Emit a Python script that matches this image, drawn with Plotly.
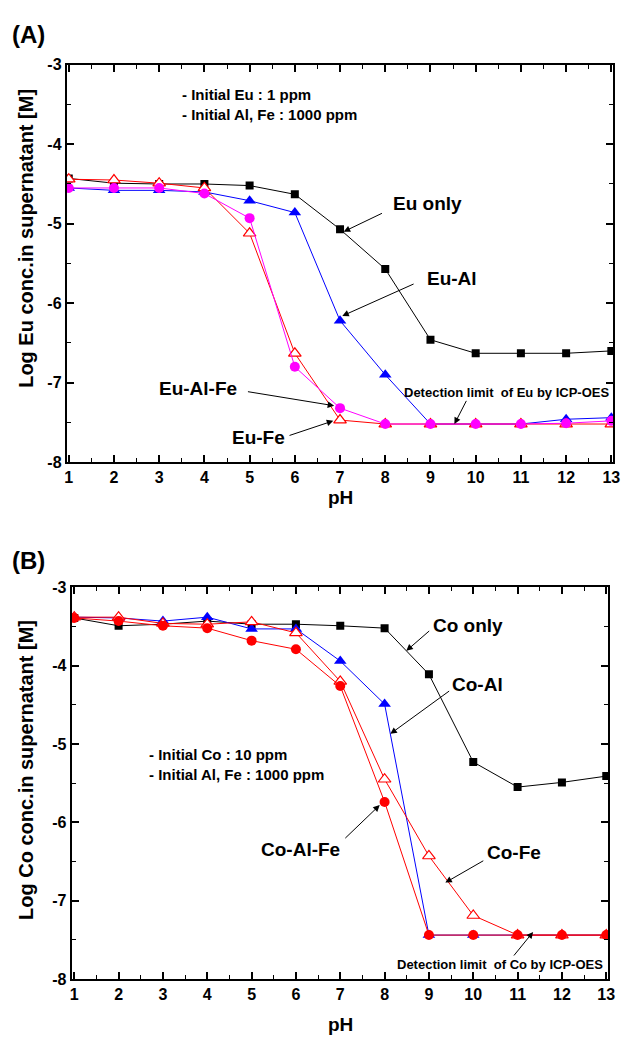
import plotly.graph_objects as go

ph = [1, 2, 3, 4, 5, 6, 7, 8, 9, 10, 11, 12, 13]

# Panel A: Eu
eu_only = [-4.43, -4.49, -4.50, -4.50, -4.52, -4.63, -5.07, -5.57, -6.46, -6.63, -6.63, -6.63, -6.60]
eu_al = [-4.55, -4.58, -4.58, -4.60, -4.71, -4.86, -6.22, -6.90, -7.52, -7.52, -7.52, -7.46, -7.44]
eu_fe = [-4.44, -4.45, -4.49, -4.55, -5.12, -6.63, -7.47, -7.52, -7.52, -7.52, -7.52, -7.52, -7.52]
eu_al_fe = [-4.55, -4.55, -4.55, -4.62, -4.93, -6.80, -7.32, -7.52, -7.52, -7.52, -7.52, -7.51, -7.48]

# Panel B: Co
co_only = [-3.39, -3.49, -3.47, -3.43, -3.47, -3.47, -3.49, -3.52, -4.11, -5.23, -5.55, -5.49, -5.41]
co_al = [-3.38, -3.39, -3.43, -3.38, -3.53, -3.53, -3.94, -4.49, -7.44, -7.44, -7.44, -7.44, -7.44]
co_fe = [-3.38, -3.38, -3.46, -3.47, -3.44, -3.58, -4.20, -5.45, -6.43, -7.19, -7.44, -7.44, -7.44]
co_al_fe = [-3.39, -3.43, -3.49, -3.52, -3.68, -3.79, -4.26, -5.74, -7.44, -7.44, -7.44, -7.44, -7.44]

x_ticks = [1, 2, 3, 4, 5, 6, 7, 8, 9, 10, 11, 12, 13]
y_ticks = [-3, -4, -5, -6, -7, -8]
y_tick_labels = ["-3", "-4", "-5", "-6", "-7", "-8"]

FONT = "Arial, Liberation Sans, Helvetica, sans-serif"
W, H = 630, 1044

fig = go.Figure()

def add(x, y, name, color, symbol, size, xa, ya, fill=None):
    fig.add_trace(go.Scatter(
        x=x, y=y, name=name, mode="lines+markers", xaxis=xa, yaxis=ya,
        line=dict(color=color, width=1),
        marker=dict(symbol=symbol, size=size, color=fill if fill else color,
                    line=dict(color=color, width=1.2 if fill else 0)),
        showlegend=False))

add(ph, eu_only, "Eu only", "black", "square", 8, "x", "y")
add(ph, eu_al, "Eu-Al", "#0000ff", "triangle-up", 11, "x", "y")
add(ph, eu_fe, "Eu-Fe", "#ff0000", "triangle-up", 11, "x", "y", fill="white")
add(ph, eu_al_fe, "Eu-Al-Fe", "#ff00ff", "circle", 10, "x", "y")

add(ph, co_only, "Co only", "black", "square", 8, "x2", "y2")
add(ph, co_al, "Co-Al", "#0000ff", "triangle-up", 11, "x2", "y2")
add(ph, co_fe, "Co-Fe", "#ff0000", "triangle-up", 11, "x2", "y2", fill="white")
add(ph, co_al_fe, "Co-Al-Fe", "#ff0000", "circle", 10, "x2", "y2")

def xaxis(domain, rng, anchor):
    return dict(domain=domain, range=rng, anchor=anchor, tickvals=x_ticks,
                showgrid=False, zeroline=False, showline=True, linecolor="black",
                linewidth=2, mirror="allticks", ticks="inside", ticklen=7,
                tickwidth=1.5, tickcolor="black",
                minor=dict(ticks="inside", ticklen=4, dtick=0.5, tick0=1,
                           tickcolor="black", tickwidth=1.2, showgrid=False),
                tickfont=dict(family=FONT, size=16, color="black", weight="bold"))

def yaxis(domain, anchor):
    return dict(domain=domain, range=[-8, -3], anchor=anchor, tickvals=y_ticks,
                ticktext=y_tick_labels,
                showgrid=False, zeroline=False, showline=True, linecolor="black",
                linewidth=2, mirror="allticks", ticks="inside", ticklen=7,
                tickwidth=1.5, tickcolor="black",
                minor=dict(ticks="inside", ticklen=4, dtick=0.5, tick0=-3,
                           tickcolor="black", tickwidth=1.2, showgrid=False),
                tickfont=dict(family=FONT, size=16, color="black", weight="bold"))

fig.update_layout(
    width=W, height=H, margin=dict(l=0, r=0, t=0, b=0),
    paper_bgcolor="white", plot_bgcolor="white",
    xaxis=xaxis([65.7 / W, 620 / W], [0.956, 13.04], "y"),
    yaxis=yaxis([1 - 461.7 / H, 1 - 57.7 / H], "x"),
    xaxis2=xaxis([70.7 / W, 615 / W], [0.942, 13.044], "y2"),
    yaxis2=yaxis([1 - 987 / H, 1 - 589 / H], "x2"),
)

ann = []

def text(x, y, s, size, xr, yr, xanchor="center"):
    ann.append(dict(x=x, y=y, xref=xr, yref=yr, text=s, showarrow=False,
                    xanchor=xanchor, yanchor="middle",
                    font=dict(family=FONT, size=size, color="black", weight="bold")))

def arrow(hx, hy, tx, ty, xr, yr):
    ann.append(dict(x=hx, y=hy, ax=tx, ay=ty, xref=xr, yref=yr, axref=xr, ayref=yr,
                    text="", showarrow=True, arrowhead=2, arrowsize=1.3,
                    arrowwidth=1, arrowcolor="black"))

LBL = 19
# Panel A annotations
text(8.94, -4.745, "Eu only", LBL, "x", "y")
text(9.47, -5.69, "Eu-Al", LBL, "x", "y")
text(3.85, -7.07, "Eu-Al-Fe", LBL, "x", "y")
text(5.19, -7.69, "Eu-Fe", LBL, "x", "y")
text(10.69, -7.12, "Detection limit  of Eu by ICP-OES", 13, "x", "y")
text(3.45, -3.37, "- Initial Eu : 1 ppm", 15, "x", "y", "left")
text(3.45, -3.62, "- Initial Al, Fe : 1000 ppm", 15, "x", "y", "left")
arrow(7.08, -5.10, 7.96, -4.86, "x", "y")
arrow(7.05, -6.16, 8.66, -5.75, "x", "y")
arrow(6.87, -7.29, 4.93, -7.11, "x", "y")
arrow(6.85, -7.48, 5.85, -7.67, "x", "y")
arrow(9.53, -7.52, 9.81, -7.21, "x", "y")

# Panel B annotations
text(9.89, -3.49, "Co only", LBL, "x2", "y2")
text(10.09, -4.24, "Co-Al", LBL, "x2", "y2")
text(6.11, -6.35, "Co-Al-Fe", LBL, "x2", "y2")
text(10.91, -6.38, "Co-Fe", LBL, "x2", "y2")
text(10.6, -7.82, "Detection limit  of Co by ICP-OES", 13, "x2", "y2")
text(2.64, -5.14, "- Initial Co : 10 ppm", 15, "x2", "y2", "left")
text(2.64, -5.39, "- Initial Al, Fe : 1000 ppm", 15, "x2", "y2", "left")
arrow(8.49, -3.81, 9.04, -3.54, "x2", "y2")
arrow(8.13, -4.87, 9.49, -4.31, "x2", "y2")
arrow(7.89, -5.78, 7.08, -6.22, "x2", "y2")
arrow(9.37, -6.77, 10.26, -6.48, "x2", "y2")
arrow(11.35, -7.40, 10.89, -7.72, "x2", "y2")

# Panel labels and axis titles (paper coordinates)
def ptext(px, py, s, size, angle=0, xanchor="center"):
    ann.append(dict(x=px / W, y=1 - py / H, xref="paper", yref="paper", text=s,
                    showarrow=False, textangle=angle, xanchor=xanchor, yanchor="middle",
                    font=dict(family=FONT, size=size, color="black", weight="bold")))

ptext(8, 27, "(A)", 24, xanchor="left")
ptext(8, 562, "(B)", 24, xanchor="left")
ptext(25, 234, "Log Eu conc.in supernatant [M]", 20, angle=-90)
ptext(25, 775, "Log Co conc.in supernatant [M]", 20, angle=-90)
ptext(343, 498, "pH", 19)
ptext(343, 1033, "pH", 19)

fig.update_layout(annotations=ann)

fig.write_html("out.html", config={"displayModeBar": False},
               post_script="document.body.style.margin='0';document.body.style.overflow='hidden';")
